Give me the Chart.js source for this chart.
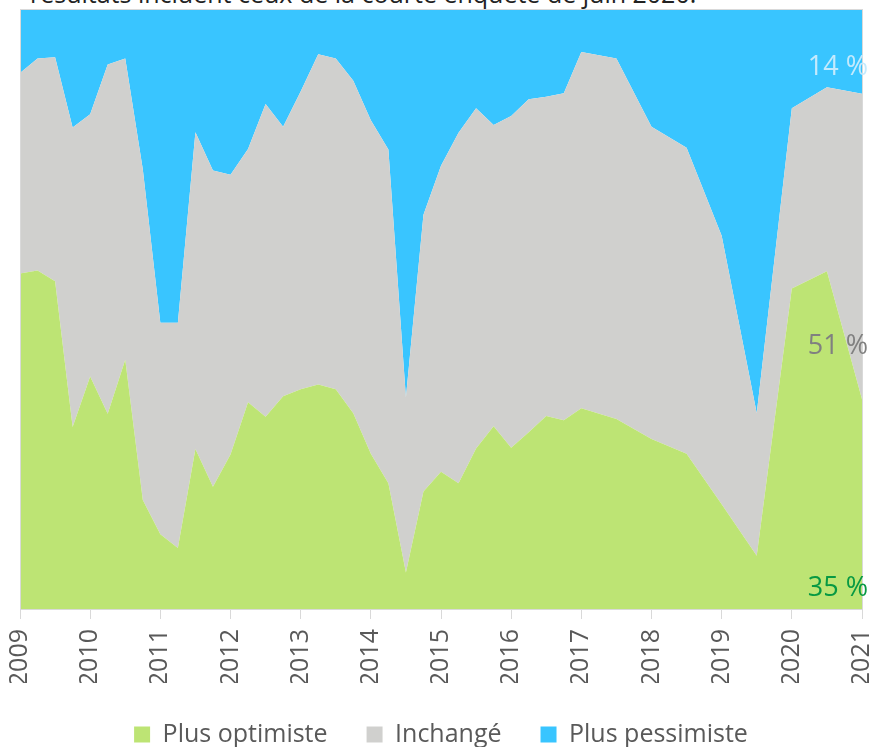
<!DOCTYPE html>
<html lang="fr">
<head>
<meta charset="utf-8">
<script src="https://cdn.jsdelivr.net/npm/chart.js@4/dist/chart.umd.min.js"></script>
<style>
  html, body { margin: 0; padding: 0; background: #fff; overflow: hidden; }
  #wrap { position: relative; width: 876px; height: 747px; overflow: hidden; }
  #note { position: absolute; left: 30px; top: -19px; font: 25px/25px "Open Sans", sans-serif; color: #222; white-space: nowrap; }
  canvas { position: absolute; left: 0; top: 0; }
</style>
</head>
<body>
<div id="wrap">
  <div id="note">résultats incluent ceux de la courte enquête de juin 2020.</div>
  <canvas id="chart" width="876" height="747"></canvas>
</div>
<script>
// enquêtes : trimestrielles jusqu'en 2017, puis semestrielles
const dates = [2009, 2009.25, 2009.5, 2009.75, 2010, 2010.25, 2010.5, 2010.75,
  2011, 2011.25, 2011.5, 2011.75, 2012, 2012.25, 2012.5, 2012.75,
  2013, 2013.25, 2013.5, 2013.75, 2014, 2014.25, 2014.5, 2014.75,
  2015, 2015.25, 2015.5, 2015.75, 2016, 2016.25, 2016.5, 2016.75,
  2017, 2017.5, 2018, 2018.5, 2019, 2019.5, 2020, 2020.5, 2021];

const optimiste = [56, 56.5, 54.7, 30.4, 38.8, 32.6, 41.6, 18.2,
  12.5, 10.2, 26.7, 20.4, 25.8, 34.5, 32.1, 35.5,
  36.7, 37.5, 36.7, 32.7, 25.9, 21.0, 6.1, 19.6,
  22.9, 21.0, 26.8, 30.5, 26.9, 29.5, 32.2, 31.5,
  33.5, 31.7, 28.4, 25.9, 17.5, 8.9, 53.5, 56.4, 35];

const inchange = [33.5, 35.4, 37.4, 50.0, 43.8, 58.3, 50.3, 55.2,
  35.3, 37.6, 52.9, 52.8, 46.7, 42.3, 52.2, 45.0,
  49.7, 55.1, 55.2, 55.5, 55.7, 55.7, 29.2, 46.2,
  51.1, 58.5, 56.8, 50.3, 55.4, 55.6, 53.3, 54.6,
  59.5, 60.2, 52.1, 51.1, 44.8, 23.8, 30.1, 30.7, 51];

const pessimiste = [10.5, 8.1, 7.9, 19.6, 17.4, 9.1, 8.1, 26.6,
  52.2, 52.2, 20.4, 26.8, 27.5, 23.2, 15.7, 19.5,
  13.6, 7.4, 8.1, 11.8, 18.4, 23.3, 64.7, 34.2,
  26.0, 20.5, 16.4, 19.2, 17.7, 14.9, 14.5, 13.9,
  7.0, 8.1, 19.5, 23.0, 37.7, 67.3, 16.4, 12.9, 14];

const years = [2009, 2010, 2011, 2012, 2013, 2014, 2015, 2016, 2017, 2018, 2019, 2020, 2021];

const pts = arr => arr.map((v, i) => ({ x: dates[i], y: v }));

// étiquettes de la dernière valeur, à droite du graphique
const endLabels = {
  id: 'endLabels',
  afterDatasetsDraw(chart) {
    const ctx = chart.ctx;
    const right = chart.chartArea.right + 6;
    const last = i => Math.round(chart.data.datasets[i].data[dates.length - 1].y) + ' %';
    ctx.save();
    ctx.font = '27px "Open Sans", sans-serif';
    ctx.textAlign = 'right';
    ctx.textBaseline = 'middle';
    ctx.fillStyle = '#c4eafd';
    ctx.fillText(last(2), right, 67);
    ctx.fillStyle = '#808080';
    ctx.fillText(last(1), right, 346);
    ctx.fillStyle = '#079943';
    ctx.fillText(last(0), right, 588);
    ctx.restore();
  }
};

const frame = {
  id: 'frame',
  afterDatasetsDraw(chart) {
    const a = chart.chartArea;
    const ctx = chart.ctx;
    ctx.save();
    ctx.strokeStyle = '#d9d9d9';
    ctx.lineWidth = 1;
    ctx.strokeRect(a.left + 0.5, a.top - 0.5, a.right - a.left, a.bottom - a.top + 1);
    ctx.restore();
  }
};

const ctx = document.getElementById('chart').getContext('2d');
const chart = new Chart(ctx, {
  type: 'line',
  data: {
    datasets: [
      { label: 'Plus optimiste', data: pts(optimiste), backgroundColor: '#bde474', borderWidth: 0, fill: 'origin', pointRadius: 0 },
      { label: 'Inchangé', data: pts(inchange), backgroundColor: '#d0d0ce', borderWidth: 0, fill: '-1', pointRadius: 0 },
      { label: 'Plus pessimiste', data: pts(pessimiste), backgroundColor: '#39c5ff', borderWidth: 0, fill: '-1', pointRadius: 0 }
    ]
  },
  options: {
    responsive: false,
    animation: false,
    layout: { padding: { left: 20, right: 14, top: 10, bottom: -10 } },
    plugins: {
      legend: {
        position: 'bottom',
        labels: {
          boxWidth: 16,
          boxHeight: 16,
          padding: 39,
          color: '#595959',
          font: { family: 'Open Sans', size: 25 }
        }
      },
      tooltip: { enabled: false }
    },
    scales: {
      x: {
        type: 'linear',
        min: 2009,
        max: 2021,
        afterBuildTicks: axis => { axis.ticks = years.map(v => ({ value: v })); },
        afterFit: axis => {
          axis.paddingLeft = 0;
          axis.paddingRight = 0;
          axis.height = 74;
        },
        ticks: {
          minRotation: 90,
          maxRotation: 90,
          color: '#595959',
          padding: 10,
          font: { family: 'Open Sans', size: 25 },
          callback: v => String(v)
        },
        grid: { drawOnChartArea: false, color: '#d9d9d9', tickLength: 10 },
        border: { color: '#d9d9d9' }
      },
      y: {
        stacked: true,
        display: false,
        min: 0,
        max: 100
      }
    }
  },
  plugins: [frame, endLabels]
});
</script>
</body>
</html>
